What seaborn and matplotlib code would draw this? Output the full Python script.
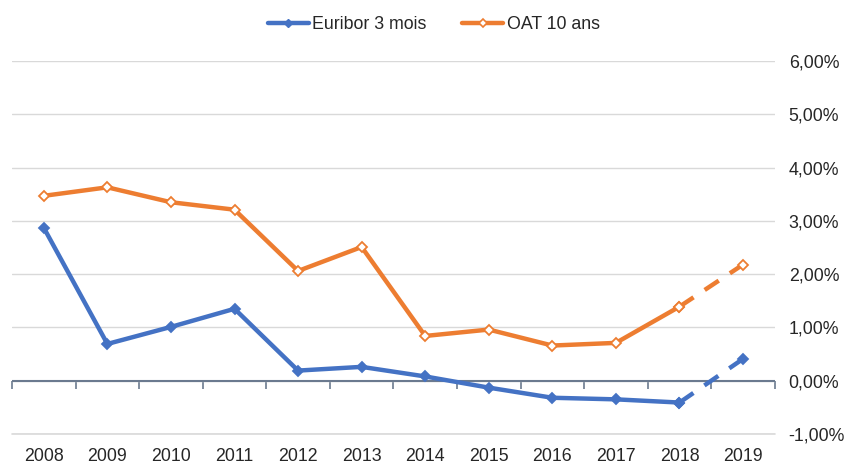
import numpy as np
import pandas as pd
import matplotlib
matplotlib.use("Agg")
import matplotlib.pyplot as plt
import matplotlib.ticker as mticker
from matplotlib.lines import Line2D
import seaborn as sns

years = ["2008", "2009", "2010", "2011", "2012", "2013",
         "2014", "2015", "2016", "2017", "2018", "2019"]
euribor = [2.87, 0.69, 1.01, 1.35, 0.19, 0.26, 0.08, -0.13, -0.32, -0.35, -0.41, 0.41]
oat = [3.47, 3.63, 3.35, 3.21, 2.06, 2.51, 0.84, 0.96, 0.66, 0.71, 1.39, 2.18]
n_solid = 11  # derniers points (2018 -> 2019) en pointillés

BLUE = "#4472C4"
ORANGE = "#ED7D31"
GRID = "#D9D9D9"
FS = 12.8

sns.set_style("white")
plt.rcParams["font.family"] = ["Liberation Sans", "DejaVu Sans"]

df = pd.DataFrame({"pos": np.arange(len(years)), "euribor": euribor, "oat": oat})
solid = df.iloc[:n_solid]
dashed = df.iloc[n_solid - 1:]

fig = plt.figure(figsize=(8.59, 4.65), dpi=100)
ax = fig.add_axes([0.014, 0.0667, 0.888, 0.802])

ax.set_ylim(-1, 6)
ax.set_xlim(-0.5, len(years) - 0.5)
ax.yaxis.set_major_locator(mticker.MultipleLocator(1))
ax.grid(axis="y", color=GRID, linewidth=1)
ax.axhline(-1, color=GRID, linewidth=1.2, clip_on=False, zorder=0.5)
ax.set_axisbelow(True)

for col, color, face in [("euribor", BLUE, BLUE), ("oat", ORANGE, "white")]:
    kw = dict(color=color, linewidth=3.2, marker="D", markersize=5,
              markerfacecolor=face, markeredgecolor=color, markeredgewidth=1.3, ax=ax)
    sns.lineplot(data=solid, x="pos", y=col, **kw)
    sns.lineplot(data=dashed, x="pos", y=col, dashes=False, **kw)
    ax.lines[-1].set_dashes([3.8, 3])
    ax.lines[-1].set_dash_capstyle("butt")

# axe des abscisses à zéro avec graduations entre catégories
ax.axhline(0, color="#6B7A8F", linewidth=1.5, zorder=1.5)
sec = ax.secondary_xaxis(0, transform=ax.transData)
sec.spines["bottom"].set_visible(False)
sec.set_xticks(np.arange(len(years) + 1) - 0.5)
sec.tick_params(axis="x", length=6, width=1.2, color="#6B7A8F", labelbottom=False)

for s in ax.spines.values():
    s.set_visible(False)
ax.set_xticks(df["pos"])
ax.set_xticklabels(years)
ax.tick_params(axis="x", length=0, pad=10, labelsize=FS, labelcolor="#262626")
ax.yaxis.tick_right()
ax.tick_params(axis="y", length=0, pad=10, labelsize=FS, labelcolor="#262626")
ax.yaxis.set_major_formatter(mticker.FuncFormatter(lambda v, p: f"{v:.2f}%".replace(".", ",")))
ax.set_xlabel("")
ax.set_ylabel("")

handles = [
    Line2D([], [], color=BLUE, linewidth=3.2, marker="D", markersize=4,
           markerfacecolor=BLUE, markeredgecolor=BLUE),
    Line2D([], [], color=ORANGE, linewidth=3.2, marker="D", markersize=4,
           markerfacecolor="white", markeredgecolor=ORANGE, markeredgewidth=1.2),
]
fig.legend(handles, ["Euribor 3 mois", "OAT 10 ans"], loc="center", ncol=2,
           bbox_to_anchor=(0.505, 0.947), frameon=False, fontsize=FS,
           handlelength=2.3, columnspacing=2.0, handletextpad=0.2)

fig.savefig("out.png", dpi=100)
